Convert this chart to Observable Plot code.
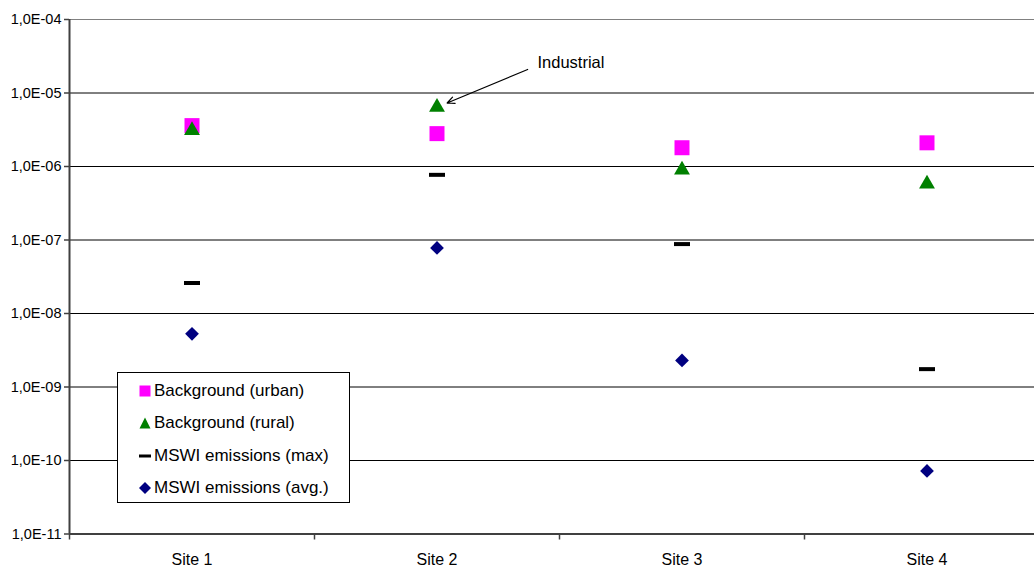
<!DOCTYPE html>
<html>
<head>
<meta charset="utf-8">
<script src="https://cdn.jsdelivr.net/npm/d3@7"></script>
<script src="https://cdn.jsdelivr.net/npm/@observablehq/plot@0.6"></script>
<style>
  body { margin: 0; background: white; }
  #wrap { position: relative; width: 1034px; height: 567px; overflow: hidden; font-family: "Liberation Sans", Arial, sans-serif; }
  #legend { position: absolute; left: 117px; top: 372px; width: 231px; height: 129px; border: 1px solid black; background: white; }
  .row { position: absolute; left: 0; height: 20px; line-height: 20px; font-size: 17px; color: black; white-space: nowrap; }
  .row svg { position: absolute; left: 21px; top: 4px; }
  .row span { position: absolute; left: 36px; }
</style>
</head>
<body>
<div id="wrap"></div>
<script>
// ---- data ----
const sites = ["Site 1", "Site 2", "Site 3", "Site 4"];
const urban   = [3.6e-6, 2.8e-6, 1.8e-6, 2.1e-6];
const rural   = [3.1e-6, 6.4e-6, 9.0e-7, 5.8e-7];
const mswiMax = [2.6e-8, 7.7e-7, 8.8e-8, 1.75e-9];
const mswiAvg = [5.3e-9, 7.8e-8, 2.3e-9, 7.2e-11];
const seriesNames = ["Background (urban)", "Background (rural)", "MSWI emissions (max)", "MSWI emissions (avg.)"];
const yTicks = [1e-11, 1e-10, 1e-9, 1e-8, 1e-7, 1e-6, 1e-5, 1e-4];
const annotationLabel = "Industrial";
const annotationSite = 1;              // index of Site 2
const annotationFrom = {x: 1.87, y: 2.09e-5};
const annotationTextAt = {x: 1.91, y: 2.6e-5};

const rows = sites.map((s, i) => ({site: s, pos: i + 0.5, urban: urban[i], rural: rural[i], max: mswiMax[i], avg: mswiAvg[i]}));

const dash = {draw(ctx) { ctx.rect(-8, -2, 16, 4); }};
const fmt = d => "1,0E-" + String(-Math.round(Math.log10(d))).padStart(2, "0");

const chart = Plot.plot({
  width: 1034, height: 567,
  marginLeft: 69, marginRight: 0, marginTop: 19, marginBottom: 33.5,
  style: {fontFamily: "'Liberation Sans', Arial, sans-serif", background: "white", overflow: "visible"},
  x: {type: "linear", domain: [0, 4], range: [69, 1049], axis: null},
  y: {type: "log", domain: [1e-11, 1e-4], axis: null},
  marks: [
    Plot.ruleY(yTicks.slice(1, -1), {stroke: "black", strokeWidth: 1}),
    Plot.ruleY([1e-4], {stroke: "#808080", strokeWidth: 1}),
    Plot.ruleX([0], {stroke: "#404040", strokeWidth: 2}),
    Plot.ruleY([1e-11], {stroke: "#404040", strokeWidth: 2}),
    Plot.axisY({ticks: yTicks, tickFormat: fmt, tickSize: 5, tickPadding: 3, fontSize: 14.5, stroke: "#404040", strokeWidth: 1.5, color: "black"}),
    Plot.axisX({ticks: [0, 1, 2, 3, 4], tickFormat: () => "", tickSize: 6, stroke: "#404040", strokeWidth: 1.5}),
    Plot.text(rows, {x: "pos", y: yTicks[0], text: "site", dy: 26, fontSize: 16, fill: "black"}),
    Plot.dot(rows, {x: "pos", y: "urban", symbol: "square", r: 8.46, fill: "#FF00FF"}),
    Plot.dot(rows, {x: "pos", y: "rural", symbol: "triangle", r: 5.9, fill: "#008000"}),
    Plot.dot(rows, {x: "pos", y: "max", symbol: dash, fill: "black"}),
    Plot.dot(rows, {x: "pos", y: "avg", symbol: "diamond2", r: 6.2, fill: "#000080"}),
    Plot.arrow([{x1: annotationFrom.x, y1: annotationFrom.y, x2: rows[annotationSite].pos, y2: rows[annotationSite].rural}],
      {x1: "x1", y1: "y1", x2: "x2", y2: "y2", insetEnd: 11, headLength: 10, headAngle: 50, stroke: "black", strokeWidth: 1.2}),
    Plot.text([annotationLabel], {x: annotationTextAt.x, y: annotationTextAt.y, text: d => d, textAnchor: "start", fontSize: 16.5, fill: "black"})
  ]
});
const wrap = document.getElementById("wrap");
wrap.appendChild(chart);

// legend
const legend = document.createElement("div");
legend.id = "legend";
const symbols = [
  '<svg width="12" height="12"><rect x="0.5" y="0.5" width="11" height="11" fill="#FF00FF"/></svg>',
  '<svg width="12" height="12"><path d="M6,0.5L11.5,11.5L0.5,11.5Z" fill="#008000"/></svg>',
  '<svg width="12" height="12"><rect x="0" y="4.5" width="12" height="3" fill="black"/></svg>',
  '<svg width="12" height="12"><path d="M6,0L12,6L6,12L0,6Z" fill="#000080"/></svg>'
];
const rowCenters = [18, 50, 83, 115];
seriesNames.forEach((n, i) => {
  const r = document.createElement("div");
  r.className = "row";
  r.style.top = (rowCenters[i] - 10) + "px";
  r.innerHTML = symbols[i] + "<span>" + n + "</span>";
  legend.appendChild(r);
});
wrap.appendChild(legend);
</script>
</body>
</html>
